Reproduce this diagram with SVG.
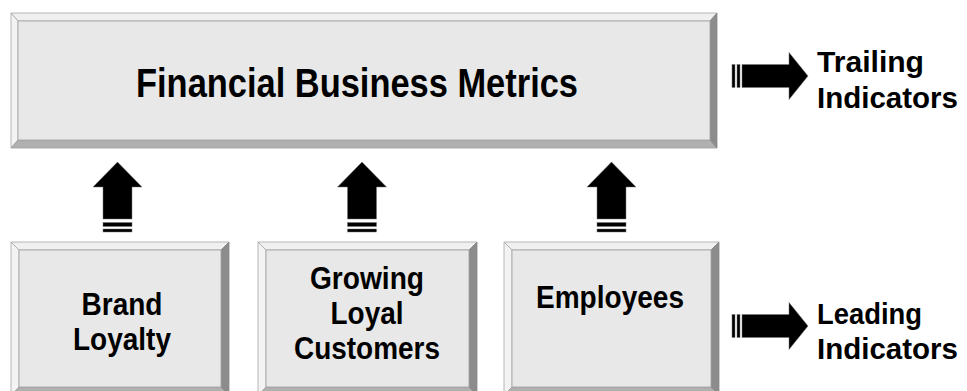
<svg xmlns="http://www.w3.org/2000/svg" width="967" height="391" viewBox="0 0 967 391">
<style>
.bt{fill:#f0f0f0;stroke:#a6a6a6;stroke-width:0.8}
.bl{fill:#f3f3f3;stroke:#a6a6a6;stroke-width:0.8}
.bb{fill:#b0b0b0;stroke:#a0a0a0;stroke-width:0.8}
.br{fill:#8c8c8c;stroke:#888;stroke-width:0.8}
.face{fill:#e8e8e8;stroke:#a0a0a0;stroke-width:0.8}
.t{font-family:"Liberation Sans",Arial,sans-serif;font-weight:bold;fill:#000;text-anchor:middle}
.t2{font-family:"Liberation Sans",Arial,sans-serif;font-weight:bold;fill:#000}
.ar{fill:#000;stroke:#777;stroke-width:0.5}
</style>
<rect width="967" height="391" fill="#fff"/>
<g id="financial">
<polygon class="bt" points="11,13 717,13 710,21 18,21"/>
<polygon class="bl" points="11,13 18,21 18,140 11,148"/>
<polygon class="bb" points="11,148 18,140 710,140 717,148"/>
<polygon class="br" points="717,13 717,148 710,140 710,21"/>
<rect class="face" x="18" y="21" width="692" height="119"/>
<text class="t" x="357" y="97" font-size="41" textLength="442" lengthAdjust="spacingAndGlyphs">Financial Business Metrics</text>
</g>
<g id="brand">
<polygon class="bt" points="11,242 229,242 221,250 19,250"/>
<polygon class="bl" points="11,242 19,250 19,387 11,395"/>
<polygon class="bb" points="11,395 19,387 221,387 229,395"/>
<polygon class="br" points="229,242 229,395 221,387 221,250"/>
<rect class="face" x="19" y="250" width="202" height="137"/>
<text class="t" x="122" y="315" font-size="32" textLength="81" lengthAdjust="spacingAndGlyphs">Brand</text>
<text class="t" x="122" y="350" font-size="32" textLength="98" lengthAdjust="spacingAndGlyphs">Loyalty</text>
</g>
<g id="growing">
<polygon class="bt" points="258,242 477,242 469,250 266,250"/>
<polygon class="bl" points="258,242 266,250 266,387 258,395"/>
<polygon class="bb" points="258,395 266,387 469,387 477,395"/>
<polygon class="br" points="477,242 477,395 469,387 469,250"/>
<rect class="face" x="266" y="250" width="203" height="137"/>
<text class="t" x="367" y="289" font-size="32" textLength="114" lengthAdjust="spacingAndGlyphs">Growing</text>
<text class="t" x="367" y="324" font-size="32" textLength="73" lengthAdjust="spacingAndGlyphs">Loyal</text>
<text class="t" x="367" y="359" font-size="32" textLength="146" lengthAdjust="spacingAndGlyphs">Customers</text>
</g>
<g id="employees">
<polygon class="bt" points="504,242 719,242 711,250 512,250"/>
<polygon class="bl" points="504,242 512,250 512,387 504,395"/>
<polygon class="bb" points="504,395 512,387 711,387 719,395"/>
<polygon class="br" points="719,242 719,395 711,387 711,250"/>
<rect class="face" x="512" y="250" width="199" height="137"/>
<text class="t" x="610" y="308" font-size="32" textLength="148" lengthAdjust="spacingAndGlyphs">Employees</text>
</g>
<g id="trailing">
<text class="t2" x="817" y="72" font-size="30" textLength="107" lengthAdjust="spacingAndGlyphs">Trailing</text>
<text class="t2" x="817" y="108" font-size="30" textLength="141" lengthAdjust="spacingAndGlyphs">Indicators</text>
</g>
<g id="leading">
<text class="t2" x="817" y="324" font-size="30" textLength="105" lengthAdjust="spacingAndGlyphs">Leading</text>
<text class="t2" x="817" y="359" font-size="30" textLength="141" lengthAdjust="spacingAndGlyphs">Indicators</text>
</g>
<g id="connectors">
<g class="ar">
<path d="M117.5,162 L142,187 L132,187 L132,219 L103,219 L103,187 L93,187 Z"/>
<rect x="103" y="222.5" width="29" height="4"/>
<rect x="103" y="229" width="29" height="3"/>
<path d="M362,162 L386.5,187 L376.5,187 L376.5,219 L347.5,219 L347.5,187 L337.5,187 Z"/>
<rect x="347.5" y="222.5" width="29" height="4"/>
<rect x="347.5" y="229" width="29" height="3"/>
<path d="M611.5,162 L636,187 L626,187 L626,219 L597,219 L597,187 L587,187 Z"/>
<rect x="597" y="222.5" width="29" height="4"/>
<rect x="597" y="229" width="29" height="3"/>
<path d="M808,76 L789,52.5 L789,64.5 L742,64.5 L742,87.5 L789,87.5 L789,99.5 Z"/>
<rect x="732" y="64.5" width="3" height="23"/>
<rect x="737" y="64.5" width="3" height="23"/>
<path d="M808,326 L789,302.5 L789,314.5 L742,314.5 L742,337.5 L789,337.5 L789,349.5 Z"/>
<rect x="732" y="314.5" width="3" height="23"/>
<rect x="737" y="314.5" width="3" height="23"/>
</g>
</g>
</svg>
